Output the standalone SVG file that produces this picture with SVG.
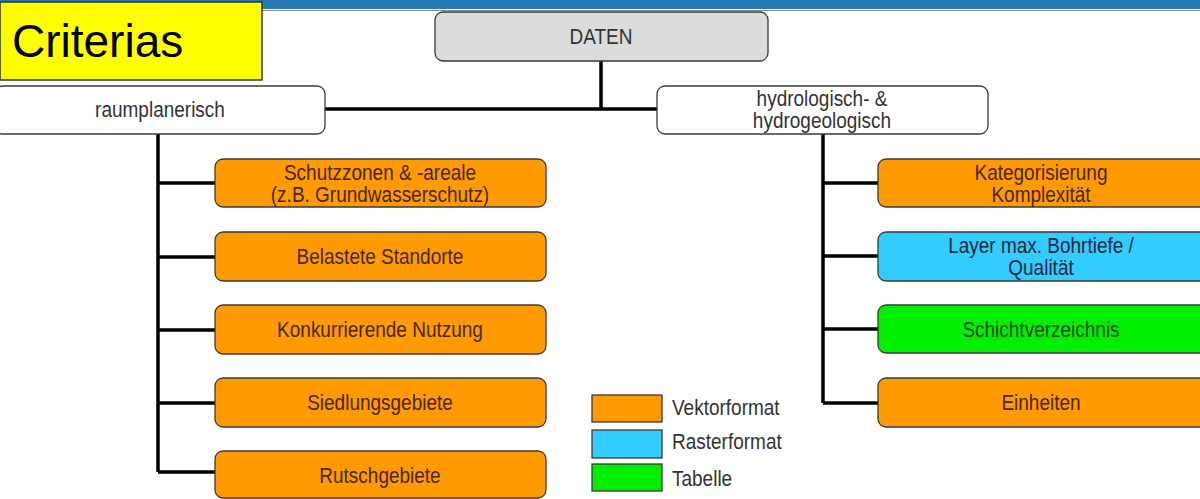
<svg xmlns="http://www.w3.org/2000/svg" width="1200" height="499" viewBox="0 0 1200 499">
<style>
text{font-family:"Liberation Sans",Arial,sans-serif;font-size:19px;fill:#333;text-anchor:middle}
.box{stroke:#3a3a3a;stroke-width:1.3}
.or{fill:#ff9a00}.bl{fill:#33ccff}.gr{fill:#00ee00}.wh{fill:#fff}.gy{fill:#dcdcdc}
.ot{fill:#4a2608}
.bt{fill:#1c2a40}
.gt{fill:#1e4a14}
.con{stroke:#000;stroke-width:3.5;fill:none}
.lg{text-anchor:start}
</style>
<rect width="1200" height="499" fill="#fff"/>
<rect x="0" y="0" width="1200" height="9" fill="#2878b4"/>
<line x1="0" y1="10.5" x2="1200" y2="10.5" stroke="#888" stroke-width="1"/>
<g id="title"><rect x="0" y="2" width="262" height="78" fill="#ffff00" stroke="#333" stroke-width="1.5"/>
<text x="12" y="57" style="font-size:46px;text-anchor:start;fill:#000">Criterias</text></g>
<g id="connectors">
<path class="con" d="M601 61V109M325 109H657"/>
<path class="con" d="M158 134V472M158 183H215M158 257H215M158 330H215M158 403H215M158 472H215"/>
<path class="con" d="M823 134V403M823 183H878M823 256H878M823 329H878M823 403H878"/>
</g>
<g id="daten"><rect class="box gy" x="435" y="12" width="333" height="49" rx="8"/><text transform="translate(601,44) scale(1,1.2)">DATEN</text></g>
<g id="raum"><rect class="box wh" x="-5" y="86" width="330" height="48" rx="8"/><text transform="translate(160,117) scale(1,1.2)">raumplanerisch</text></g>
<g id="hydro"><rect class="box wh" x="657" y="86" width="331" height="48" rx="8"/><text transform="translate(822,106) scale(1,1.12)">hydrologisch- &amp;</text><text transform="translate(822,128) scale(1,1.12)">hydrogeologisch</text></g>
<g id="schutz"><rect class="box or" x="215" y="159" width="331" height="48" rx="8"/><text class="ot" transform="translate(380,180) scale(1,1.12)">Schutzzonen &amp; -areale</text><text class="ot" transform="translate(380,202) scale(1,1.12)">(z.B. Grundwasserschutz)</text></g>
<g id="belastete"><rect class="box or" x="215" y="232" width="331" height="49" rx="8"/><text class="ot" transform="translate(380,264) scale(1,1.2)">Belastete Standorte</text></g>
<g id="konk"><rect class="box or" x="215" y="305" width="331" height="49" rx="8"/><text class="ot" transform="translate(380,337) scale(1,1.2)">Konkurrierende Nutzung</text></g>
<g id="sied"><rect class="box or" x="215" y="378" width="331" height="49" rx="8"/><text class="ot" transform="translate(380,410) scale(1,1.2)">Siedlungsgebiete</text></g>
<g id="rutsch"><rect class="box or" x="215" y="451" width="331" height="47" rx="8"/><text class="ot" transform="translate(380,483) scale(1,1.2)">Rutschgebiete</text></g>
<g id="kat"><rect class="box or" x="878" y="159" width="330" height="48" rx="8"/><text class="ot" transform="translate(1041,180) scale(1,1.12)">Kategorisierung</text><text class="ot" transform="translate(1041,202) scale(1,1.12)">Komplexität</text></g>
<g id="layer"><rect class="box bl" x="878" y="232" width="330" height="49" rx="8"/><text class="bt" transform="translate(1041,253) scale(1,1.12)">Layer max. Bohrtiefe /</text><text class="bt" transform="translate(1041,275) scale(1,1.12)">Qualität</text></g>
<g id="schicht"><rect class="box gr" x="878" y="305" width="330" height="48" rx="8"/><text class="gt" transform="translate(1041,337) scale(1,1.2)">Schichtverzeichnis</text></g>
<g id="einh"><rect class="box or" x="878" y="378" width="330" height="49" rx="8"/><text class="ot" transform="translate(1041,410) scale(1,1.2)">Einheiten</text></g>
<g id="legend">
<rect class="box or" x="592" y="395" width="70" height="27"/><text class="lg" transform="translate(672,415) scale(1,1.2)">Vektorformat</text>
<rect class="box bl" x="592" y="430" width="70" height="28"/><text class="lg" transform="translate(672,449) scale(1,1.2)">Rasterformat</text>
<rect class="box gr" x="592" y="464" width="70" height="27"/><text class="lg" transform="translate(672,486) scale(1,1.2)">Tabelle</text>
</g>
</svg>
